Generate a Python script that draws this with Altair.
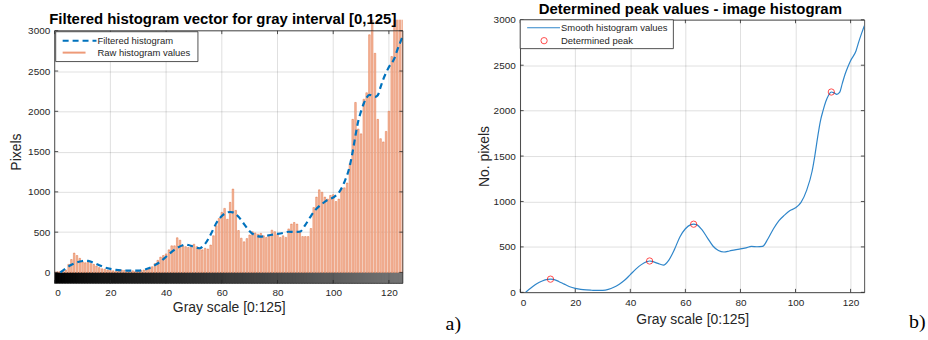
import altair as alt
import pandas as pd

# ---------------- data ----------------
bins = list(range(126))
raw_values = [
    5, 8, 10, 15, 30, 100, 160, 240, 210, 175,
    130, 120, 130, 110, 100, 80, 60, 45, 40, 30,
    25, 20, 15, 20, 30, 25, 20, 15, 20, 15,
    20, 25, 30, 35, 45, 70, 110, 150, 190, 210,
    230, 280, 330, 330, 430, 400, 330, 320, 310, 330,
    350, 320, 300, 280, 300, 290, 340, 455, 580, 670,
    745, 795, 660, 870, 1035, 770, 520, 425, 380, 420,
    465, 505, 490, 475, 485, 455, 435, 465, 525, 505,
    475, 435, 455, 435, 540, 600, 620, 600, 515, 445,
    445, 445, 545, 805, 935, 1025, 995, 935, 910, 955,
    965, 880, 910, 1040, 1050, 1110, 1350, 1900, 2110, 1780,
    1720, 2150, 2230, 2950, 3200, 2720, 1900, 1660, 1620, 1750,
    2000, 2680, 3200, 3300, 3150, 3400,
]

smooth_x = [2, 4, 6, 8, 10, 11, 12, 14, 16, 18, 20, 22, 24, 26, 28, 30, 32, 34, 36,
            38, 40, 42, 44, 46, 47, 48, 50, 52, 54, 56, 58, 60, 62, 63, 64, 66, 68,
            70, 72, 74, 76, 78, 80, 82, 84, 86, 88, 90, 92, 94, 96, 98, 100, 102,
            104, 106, 107, 108, 109, 110, 111, 112, 113, 114, 115, 116, 117, 118,
            119, 120, 122, 123, 124, 125]
smooth_y = [0, 50, 95, 125, 142, 145, 143, 120, 90, 62, 44, 32, 26, 23, 21, 22, 32,
            55, 90, 135, 195, 255, 305, 338, 345, 340, 318, 300, 355, 470, 610, 700,
            745, 750, 745, 690, 600, 510, 460, 444, 455, 468, 478, 490, 505, 502,
            505, 590, 700, 790, 850, 900, 930, 990, 1120, 1330, 1500, 1700, 1880,
            2000, 2100, 2170, 2205, 2195, 2180, 2200, 2300, 2400, 2480, 2550, 2660,
            2760, 2850, 2935]

peak_x = [11, 47, 63, 113]
peak_y = [145, 345, 750, 2205]

x_ticks = [0, 20, 40, 60, 80, 100, 120]
y_ticks = [0, 500, 1000, 1500, 2000, 2500, 3000]

# ---------------- style ----------------
FONT = "Liberation Sans"
AX = "#262626"
BLUE = "#0072BD"
ORANGE = "#D95319"

raw_df = pd.DataFrame({"g": bins, "v": raw_values})
smooth_df = pd.DataFrame({"g": smooth_x, "v": smooth_y})
peak_df = pd.DataFrame({"g": peak_x, "v": peak_y})
xt_df = pd.DataFrame({"g": x_ticks})
yt_df = pd.DataFrame({"v": y_ticks})
one = pd.DataFrame({"k": [0]})  # single row for annotation marks


def inward_ticks(xs, ys, x0, x1, y0, y1, dx, dy):
    """Matlab-style inward tick marks on all four sides of the box."""
    bottom = alt.Chart(xt_df).transform_calculate(a=f"{y0}", b=f"{y0 + dy}").mark_rule(
        color=AX, strokeWidth=0.8).encode(
        x=alt.X("g:Q", scale=xs), y=alt.Y("a:Q", scale=ys), y2="b:Q")
    top = alt.Chart(xt_df).transform_calculate(a=f"{y1}", b=f"{y1 - dy}").mark_rule(
        color=AX, strokeWidth=0.8).encode(
        x=alt.X("g:Q", scale=xs), y=alt.Y("a:Q", scale=ys), y2="b:Q")
    lft = alt.Chart(yt_df).transform_calculate(a=f"{x0}", b=f"{x0 + dx}").mark_rule(
        color=AX, strokeWidth=0.8).encode(
        y=alt.Y("v:Q", scale=ys), x=alt.X("a:Q", scale=xs), x2="b:Q")
    rgt = alt.Chart(yt_df).transform_calculate(a=f"{x1}", b=f"{x1 - dx}").mark_rule(
        color=AX, strokeWidth=0.8).encode(
        y=alt.Y("v:Q", scale=ys), x=alt.X("a:Q", scale=xs), x2="b:Q")
    return [bottom, top, lft, rgt]


# ---------------- left panel ----------------
xsL = alt.Scale(domain=[0, 125], nice=False, zero=False, padding=0)
ysL = alt.Scale(domain=[-136, 3136], nice=False, zero=False, padding=0)

axXL = alt.Axis(
    values=x_ticks, grid=False, ticks=False, domain=False, labelFontSize=10,
    labelColor=AX, labelPadding=4, labelFont=FONT, format="d",
    title="Gray scale [0:125]", titleFont=FONT, titleFontSize=14,
    titleFontWeight="normal", titleColor=AX, titlePadding=3)
axYL = alt.Axis(
    values=y_ticks, grid=True, gridColor=AX, gridOpacity=0.15, ticks=False,
    domain=False, labelFontSize=10, labelColor=AX, labelPadding=5, labelFont=FONT,
    format="d", title="Pixels", titleFont=FONT, titleFontSize=14,
    titleFontWeight="normal", titleColor=AX, titlePadding=4)

XL = dict(scale=xsL, axis=axXL, title="Gray scale [0:125]")
YL = dict(scale=ysL, axis=axYL, title="Pixels")

gradient = alt.Chart(raw_df).transform_calculate(
    lo="datum.g - 0.5", hi="datum.g + 1.0"
).mark_rect(clip=True, strokeWidth=0).encode(
    x=alt.X("lo:Q", **XL),
    x2="hi:Q",
    y=alt.Y(datum=0, **YL),
    y2=alt.datum(-136),
    color=alt.Color("g:Q", scale=alt.Scale(domain=[0, 255], range=["#000000", "#ffffff"]),
                    legend=None),
)

xgrid = alt.Chart(xt_df).mark_rule(color=AX, opacity=0.15, strokeWidth=1).encode(
    x=alt.X("g:Q", **XL),
    y=alt.Y(datum=3000, **YL),
    y2=alt.datum(-136),
)

bars = alt.Chart(raw_df).mark_bar(
    width=1.6, fill="#F6BCA2", stroke="#DD6535", strokeWidth=0.45, clip=True
).encode(
    x=alt.X("g:Q", **XL),
    y=alt.Y("v:Q", **YL),
    y2=alt.datum(0),
)

dashed = alt.Chart(smooth_df).mark_line(
    color=BLUE, strokeDash=[6, 4], strokeWidth=2.2, interpolate="monotone", clip=True
).encode(x=alt.X("g:Q", **XL), y=alt.Y("v:Q", **YL))

box = alt.Chart(one).mark_rect(fillOpacity=0, stroke=AX, strokeWidth=0.8).encode(
    x=alt.X(datum=0, **XL), x2=alt.datum(125),
    y=alt.Y(datum=3000, **YL), y2=alt.datum(-136),
)

ticksL = inward_ticks(xsL, ysL, 0, 125, -136, 3000, 1.25, 42)

legL_box = alt.Chart(one).mark_rect(fill="white", stroke=AX, strokeWidth=0.8).encode(
    x=alt.value(1), x2=alt.value(144), y=alt.value(12), y2=alt.value(42))
legL_l1 = alt.Chart(one).mark_rule(color=BLUE, strokeDash=[6, 4], strokeWidth=2).encode(
    x=alt.value(8), x2=alt.value(42), y=alt.value(21))
legL_l2 = alt.Chart(one).mark_rule(color="#EE9A78", strokeWidth=2).encode(
    x=alt.value(8), x2=alt.value(31), y=alt.value(33))
legL_t1 = alt.Chart(one).mark_text(
    text="Filtered histogram", align="left", baseline="middle", fontSize=9.5,
    font=FONT, color=AX).encode(x=alt.value(43), y=alt.value(21))
legL_t2 = alt.Chart(one).mark_text(
    text="Raw histogram values", align="left", baseline="middle", fontSize=9.5,
    font=FONT, color=AX).encode(x=alt.value(43), y=alt.value(33))

titleL = alt.Chart(one).mark_text(
    text="Filtered histogram vector for gray interval [0,125]", align="center",
    baseline="middle", fontSize=15, fontWeight="bold", font=FONT, color="#000000"
).encode(x=alt.value(169), y=alt.value(-1))

tagA = alt.Chart(one).mark_text(
    text="a)", align="left", baseline="alphabetic", fontSize=20,
    font="Liberation Serif", color="#000000"
).encode(x=alt.value(393), y=alt.value(312))

left = alt.layer(
    gradient, xgrid, bars, dashed, *ticksL, box, legL_box, legL_l1, legL_l2,
    legL_t1, legL_t2, titleL, tagA
).properties(width=350, height=265, view=alt.ViewBackground(stroke=None))

# ---------------- right panel ----------------
xsR = alt.Scale(domain=[0, 125], nice=False, zero=False, padding=0)
ysR = alt.Scale(domain=[0, 3000], nice=False, zero=False, padding=0)

xR = alt.X("g:Q", scale=xsR, axis=alt.Axis(
    values=x_ticks, grid=True, gridColor=AX, gridOpacity=0.15, ticks=False,
    domain=False, labelFontSize=10, labelColor=AX, labelPadding=5, labelFont=FONT,
    format="d", title="Gray scale [0:125]", titleFont=FONT, titleFontSize=14,
    titleFontWeight="normal", titleColor=AX, titlePadding=5))
yR = alt.Y("v:Q", scale=ysR, axis=alt.Axis(
    values=y_ticks, grid=True, gridColor=AX, gridOpacity=0.15, ticks=False,
    domain=False, labelFontSize=10, labelColor=AX, labelPadding=5, labelFont=FONT,
    format="d", title="No. pixels", titleFont=FONT, titleFontSize=14,
    titleFontWeight="normal", titleColor=AX, titlePadding=2))

smooth = alt.Chart(smooth_df).mark_line(
    color="#2F86CA", strokeWidth=1.2, interpolate="monotone", clip=True
).encode(x=xR, y=yR)

peaks = alt.Chart(peak_df).mark_point(
    shape="circle", filled=False, color="#FF0000", size=40, strokeWidth=1
).encode(x=xR, y=yR)

ticksR = inward_ticks(xsR, ysR, 0, 125, 0, 3000, 1.25, 38)

legR_box = alt.Chart(one).mark_rect(fill="white", stroke=AX, strokeWidth=0.8).encode(
    x=alt.value(0), x2=alt.value(154), y=alt.value(0), y2=alt.value(29))
legR_l1 = alt.Chart(one).mark_rule(color="#2F86CA", strokeWidth=1.1).encode(
    x=alt.value(7), x2=alt.value(40), y=alt.value(8))
legR_p = alt.Chart(one).mark_point(
    shape="circle", filled=False, color="#FF0000", size=40, strokeWidth=1
).encode(x=alt.value(24), y=alt.value(21))
legR_t1 = alt.Chart(one).mark_text(
    text="Smooth histogram values", align="left", baseline="middle", fontSize=9.5,
    font=FONT, color=AX).encode(x=alt.value(41), y=alt.value(8))
legR_t2 = alt.Chart(one).mark_text(
    text="Determined peak", align="left", baseline="middle", fontSize=9.5,
    font=FONT, color=AX).encode(x=alt.value(41), y=alt.value(21))

titleR = alt.Chart(one).mark_text(
    text="Determined peak values - image histogram", align="center",
    baseline="middle", fontSize=15, fontWeight="bold", font=FONT, color="#000000"
).encode(x=alt.value(171), y=alt.value(-10.5))

tagB = alt.Chart(one).mark_text(
    text="b)", align="left", baseline="alphabetic", fontSize=20,
    font="Liberation Serif", color="#000000"
).encode(x=alt.value(391), y=alt.value(310))

right = alt.layer(
    smooth, peaks, *ticksR, legR_box, legR_l1, legR_p, legR_t1, legR_t2, titleR, tagB
).properties(width=346, height=274,
             view=alt.ViewBackground(stroke=AX, strokeWidth=0.8))

chart = alt.hconcat(left, right, spacing=118, bounds="flush").properties(
    padding={"left": 9, "top": 1, "right": 1, "bottom": 0},
    background="white",
).configure(font=FONT)

chart.save("out.html", embed_options={"renderer": "svg", "actions": False})
